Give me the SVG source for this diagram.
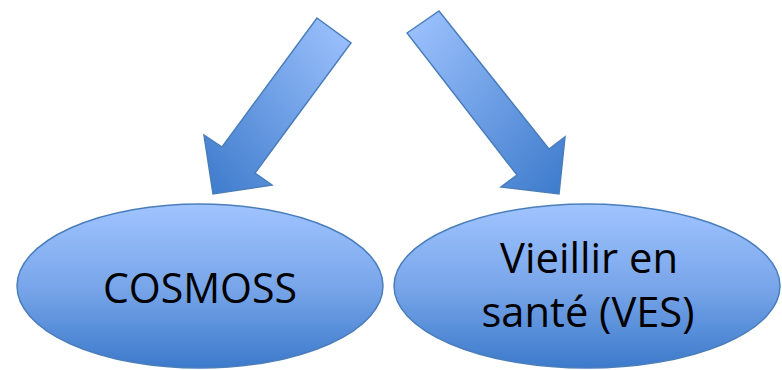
<svg xmlns="http://www.w3.org/2000/svg" width="782" height="370" viewBox="0 0 782 370">
<defs>
<linearGradient id="g" x1="0" y1="0" x2="0" y2="1">
<stop offset="0" stop-color="#A0C4FF"/>
<stop offset="0.5" stop-color="#79A6EA"/>
<stop offset="1" stop-color="#3C7ACB"/>
</linearGradient>
<linearGradient id="gl" x1="1" y1="0" x2="0" y2="1">
<stop offset="0" stop-color="#A0C4FF"/>
<stop offset="1" stop-color="#3C7ACB"/>
</linearGradient>
<linearGradient id="gr" x1="0" y1="0" x2="1" y2="1">
<stop offset="0" stop-color="#A0C4FF"/>
<stop offset="1" stop-color="#3C7ACB"/>
</linearGradient>
</defs>
<style>
.sh{stroke:#4A7EBB;stroke-width:1.5}
.t{font-family:"Open Sans","Liberation Sans",Arial,sans-serif;font-size:42px;fill:#000;text-anchor:middle}
</style>
<g id="connectors">
<polygon class="sh" fill="url(#gl)" points="317,18 351,43 255,173 272,185 213,194 204,135 222,147"/>
<polygon class="sh" fill="url(#gr)" points="407,33 439,11 549,149 565,137 559,194 501,187 517,175"/>
</g>
<g id="cosmoss">
<ellipse class="sh" fill="url(#g)" cx="200" cy="286" rx="183" ry="82"/>
<text class="t" x="200" y="303" textLength="194" lengthAdjust="spacingAndGlyphs">COSMOSS</text>
</g>
<g id="ves">
<ellipse class="sh" fill="url(#g)" cx="587" cy="286" rx="193" ry="82"/>
<text class="t" x="589" y="273" textLength="178" lengthAdjust="spacingAndGlyphs">Vieillir en</text>
<text class="t" x="588" y="327" textLength="213" lengthAdjust="spacingAndGlyphs">santé (VES)</text>
</g>
</svg>
